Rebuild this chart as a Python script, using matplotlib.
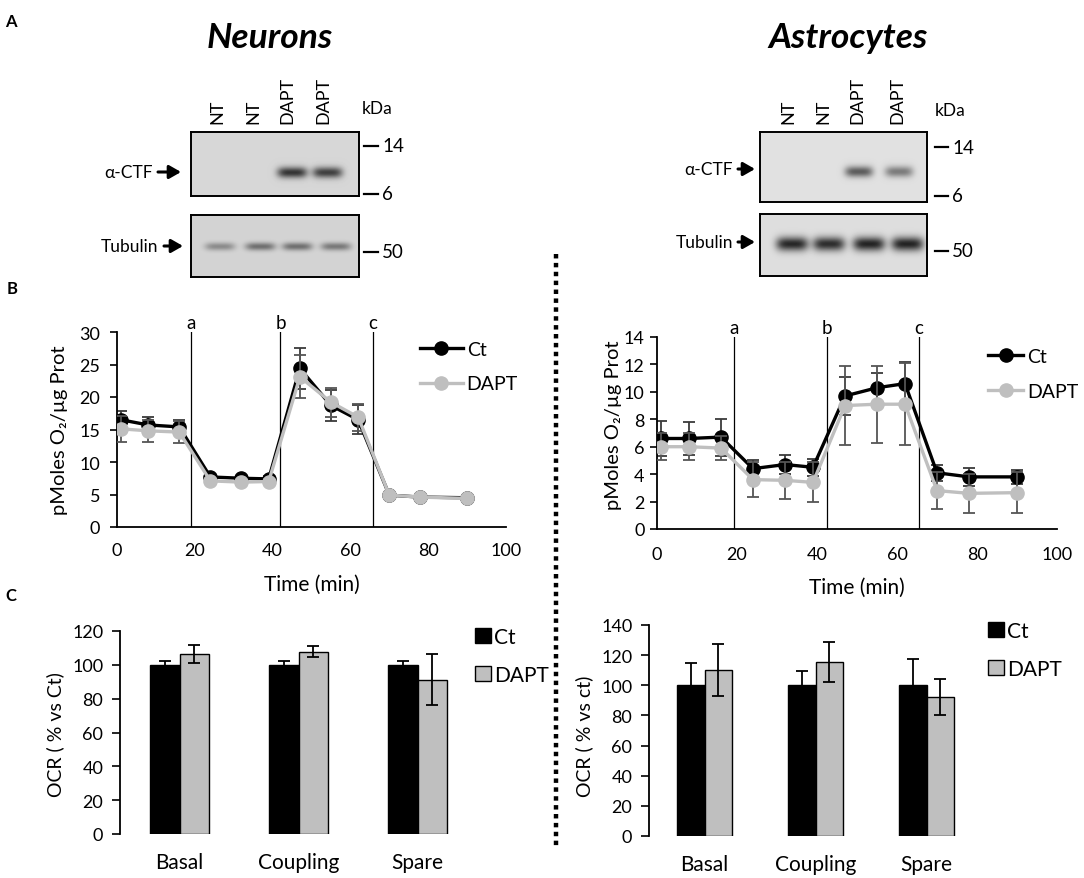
import matplotlib
matplotlib.use("Agg")
import matplotlib.pyplot as plt
import numpy as np
from matplotlib.lines import Line2D
from matplotlib.patches import Patch

plt.rcParams['font.family'] = ['Lato', 'DejaVu Sans']

W, H = 1084, 879

# ---------------- data ----------------
lanes = ['NT', 'NT', 'DAPT', 'DAPT']
kda_ctf = ['14', '6']
kda_tub = ['50']

# band strength per lane (0 = no band, 1 = black)
neu_ctf_band = [0.0, 0.0, 0.88, 0.82]
neu_tub_band = [0.40, 0.55, 0.55, 0.50]
ast_ctf_band = [0.0, 0.0, 0.68, 0.52]
ast_tub_band = [0.95, 0.92, 0.97, 0.97]

time_min = [1, 8, 16, 24, 32, 39, 47, 55, 62, 70, 78, 90]
inj_labels = ['a', 'b', 'c']
neu_inj = [19, 42, 65.8]
ast_inj = [19.3, 42.5, 65.5]

neu_ct = [16.5, 15.7, 15.4, 7.7, 7.5, 7.4, 24.4, 18.7, 16.5, 4.9, 4.6, 4.5]
neu_ct_err = [1.3, 1.2, 1.1, 0.4, 0.4, 0.4, 3.1, 2.4, 2.2, 0.3, 0.3, 0.3]
neu_dapt = [15.1, 14.8, 14.6, 7.1, 6.9, 7.0, 23.1, 19.2, 16.9, 4.9, 4.6, 4.4]
neu_dapt_err = [2.0, 1.7, 1.7, 0.4, 0.4, 0.4, 3.3, 2.2, 2.1, 0.3, 0.3, 0.3]

ast_ct = [6.6, 6.6, 6.7, 4.4, 4.7, 4.5, 9.7, 10.3, 10.6, 4.1, 3.8, 3.8]
ast_ct_err = [1.3, 1.2, 1.35, 0.65, 0.7, 0.6, 1.4, 1.1, 1.6, 0.6, 0.65, 0.5]
ast_dapt = [6.0, 6.0, 5.9, 3.6, 3.55, 3.4, 9.0, 9.1, 9.1, 2.8, 2.6, 2.65]
ast_dapt_err = [1.0, 1.0, 0.9, 1.25, 1.35, 1.45, 2.9, 2.8, 3.0, 1.35, 1.4, 1.5]

params = ['Basal', 'Coupling', 'Spare']
neu_bar_ct = [100, 100, 100]
neu_bar_ct_err = [2.5, 2.3, 2.3]
neu_bar_dapt = [106.5, 107.8, 91.3]
neu_bar_dapt_err = [5.3, 3.4, 15.0]
ast_bar_ct = [100, 100, 100]
ast_bar_ct_err = [14.5, 9.7, 17.5]
ast_bar_dapt = [110.0, 115.5, 92.0]
ast_bar_dapt_err = [17.3, 13.3, 12.0]

CT_COL = 'black'
DAPT_COL = '#bfbfbf'

fig = plt.figure(figsize=(W / 100, H / 100), dpi=100)


def px_axes(l, t, r, b):
    return fig.add_axes([l / W, 1 - b / H, (r - l) / W, (b - t) / H])


# overlay in pixel coordinates for labels and the divider
ov = fig.add_axes([0, 0, 1, 1])
ov.set_xlim(0, W)
ov.set_ylim(H, 0)
ov.axis('off')


def blot(box, bands, lane_pos, yc, hw, hh, bg):
    l, t, r, b = box
    ax = px_axes(l, t, r, b)
    w, h = r - l, b - t
    yy, xx = np.mgrid[0:h, 0:w]
    img = np.full((h, w), bg)
    for p, v in zip(lane_pos, bands):
        prof = v * np.exp(-((xx - p * w) / hw) ** 4 - ((yy - yc * h) / hh) ** 2)
        img = img - prof * (bg - 0.12)
    ax.imshow(img, cmap='gray', vmin=0, vmax=1, aspect='auto', interpolation='bilinear')
    ax.set_xticks([])
    ax.set_yticks([])
    for s in ax.spines.values():
        s.set_linewidth(1.4)
    return ax


# ---- panel A: blots ----
ov.text(11, 22, 'A', fontsize=12, fontweight='bold', ha='center', va='center')
ov.text(270, 38, 'Neurons', fontsize=25.5, fontweight='bold', fontstyle='italic', ha='center', va='center')
ov.text(848, 38, 'Astrocytes', fontsize=25.5, fontweight='bold', fontstyle='italic', ha='center', va='center')

blot((191, 133, 359, 197), neu_ctf_band, [0.17, 0.40, 0.60, 0.81], 0.625, 15, 5.5, 0.84)
blot((191, 216, 359, 278), neu_tub_band, [0.17, 0.41, 0.63, 0.86], 0.50, 15, 4.0, 0.83)
blot((760, 133, 927, 203), ast_ctf_band, [0.19, 0.41, 0.59, 0.83], 0.56, 14, 5.5, 0.88)
blot((760, 215, 927, 277), ast_tub_band, [0.19, 0.41, 0.65, 0.88], 0.475, 16, 7.0, 0.87)

for lane_x, kx, dash_x, ctf_y, tub_y, kda_y, ctf_lab, tub_lab in [
        ([217, 253, 287, 323], 377, (364, 378), (147, 195), 253, 109,
         (153, 158, 181, 173), (158, 164, 183, 247)),
        ([788, 823, 857, 897], 950, (935, 948), (148, 197), 252, 111,
         (733, 738, 755, 170), (733, 738, 755, 243))]:
    for x, lab in zip(lane_x, lanes):
        ov.text(x, 124, lab, rotation=90, fontsize=13, ha='center', va='bottom')
    ov.text(kx, kda_y, 'kDa', fontsize=12.5, ha='center', va='center')
    for y, lab in zip(list(ctf_y) + [tub_y], kda_ctf + kda_tub):
        ov.plot(dash_x, [y, y], color='k', lw=1.6)
        ov.text(dash_x[1] + 4, y, lab, fontsize=13.5, ha='left', va='center')
    for (tx, a0, a1, y), lab in [(ctf_lab, 'α-CTF'), (tub_lab, 'Tubulin')]:
        ov.text(tx, y, lab, fontsize=12.5, ha='right', va='center')
        ov.annotate('', xy=(a1, y), xytext=(a0, y),
                    arrowprops=dict(arrowstyle='-|>,head_length=0.7,head_width=0.4',
                                    lw=2.2, color='k', shrinkA=0, shrinkB=0))

# divider
ov.plot([556, 556], [255, 850], color='k', lw=3.2, linestyle=(0, (1, 1)), dash_capstyle='butt')

# ---- panel B: oxygen consumption ----
ov.text(12, 289, 'B', fontsize=12, fontweight='bold', ha='center', va='center')


def oxy_panel(box, ct, ct_err, dapt, dapt_err, inj, ymax, ystep, ypad, xpad, leg_xy, hl):
    ax = px_axes(*box)
    ax.errorbar(time_min, ct, yerr=ct_err, fmt='none', ecolor='#3a3a3a',
                elinewidth=1.3, capsize=4.5, capthick=1.3, zorder=2)
    ax.plot(time_min, ct, '-o', color=CT_COL, lw=2.4, ms=9.5, zorder=3, label='Ct')
    ax.errorbar(time_min, dapt, yerr=dapt_err, fmt='none', ecolor='#555555',
                elinewidth=1.3, capsize=4.5, capthick=1.3, zorder=4)
    ax.plot(time_min, dapt, '-o', color=DAPT_COL, lw=2.4, ms=9.5, zorder=5, label='DAPT')
    for x, lab in zip(inj, inj_labels):
        ax.axvline(x, color='k', lw=0.9, zorder=1)
        ax.annotate(lab, (x, ymax), xytext=(0, 3), textcoords='offset points',
                    ha='center', va='baseline', fontsize=13.5)
    ax.set_xlim(0, 100)
    ax.set_ylim(0, ymax)
    ax.set_xticks(range(0, 101, 20))
    ax.set_yticks(np.arange(0, ymax + 0.1, ystep))
    for s in ['top', 'right']:
        ax.spines[s].set_visible(False)
    for s in ['left', 'bottom']:
        ax.spines[s].set_linewidth(1.3)
    ax.tick_params(axis='x', length=0, pad=xpad, labelsize=13)
    ax.tick_params(axis='y', length=5, width=1.2, direction='out', pad=ypad, labelsize=13)
    ax.legend(loc='upper left', bbox_to_anchor=(leg_xy[0] / W, 1 - leg_xy[1] / H),
              bbox_transform=fig.transFigure, frameon=False, fontsize=14,
              handlelength=hl, handletextpad=0.2, labelspacing=0.9,
              borderpad=0, borderaxespad=0, numpoints=1)
    return ax


oxy_panel((117, 333, 506, 528), neu_ct, neu_ct_err, neu_dapt, neu_dapt_err, neu_inj,
          30, 5, 7, 11, (420, 342), 2.2)
oxy_panel((657, 338, 1057, 530), ast_ct, ast_ct_err, ast_dapt, ast_dapt_err, ast_inj,
          14, 2, 4, 12, (988, 349), 1.8)

ylab_b = 'pMoles O₂/µg Prot'
ov.text(60, 430, ylab_b, rotation=90, fontsize=14.5, ha='center', va='center')
ov.text(614, 425, ylab_b, rotation=90, fontsize=14.5, ha='center', va='center')
ov.text(312, 585, 'Time (min)', fontsize=15, ha='center', va='center')
ov.text(857, 588, 'Time (min)', fontsize=15, ha='center', va='center')

# ---- panel C: OCR bars ----
ov.text(11, 596, 'C', fontsize=12, fontweight='bold', ha='center', va='center')


def bar_panel(box, ct, ct_err, dapt, dapt_err, ymax, leg_xy):
    ax = px_axes(*box)
    x = np.arange(len(params))
    w = 0.25
    ax.bar(x - w / 2, ct, w, color=CT_COL, edgecolor='black', lw=1.0, label='Ct', zorder=2)
    ax.bar(x + w / 2, dapt, w, color=DAPT_COL, edgecolor='black', lw=1.0, label='DAPT', zorder=2)
    ax.errorbar(x - w / 2, ct, yerr=ct_err, fmt='none', ecolor='black',
                elinewidth=1.3, capsize=4.5, capthick=1.3, zorder=3)
    ax.errorbar(x + w / 2, dapt, yerr=dapt_err, fmt='none', ecolor='black',
                elinewidth=1.3, capsize=4.5, capthick=1.3, zorder=3)
    ax.set_xlim(-0.5, 2.5)
    ax.set_ylim(0, ymax)
    ax.set_yticks(range(0, ymax + 1, 20))
    ax.set_xticks(x)
    ax.set_xticklabels(params)
    for s in ['top', 'right', 'bottom']:
        ax.spines[s].set_visible(False)
    ax.spines['left'].set_linewidth(1.3)
    ax.tick_params(axis='x', length=0, pad=13, labelsize=15)
    ax.tick_params(axis='y', length=6, width=1.2, direction='out', pad=6, labelsize=13)
    handles = [Patch(facecolor=CT_COL, edgecolor='black', lw=1.0),
               Patch(facecolor=DAPT_COL, edgecolor='black', lw=1.0)]
    ax.legend(handles, ['Ct', 'DAPT'], loc='upper left',
              bbox_to_anchor=(leg_xy[0] / W, 1 - leg_xy[1] / H),
              bbox_transform=fig.transFigure, frameon=False, fontsize=15,
              handlelength=0.75, handleheight=0.75, handletextpad=0.15, labelspacing=0.85,
              borderpad=0, borderaxespad=0)
    return ax


bar_panel((120, 632, 477, 835), neu_bar_ct, neu_bar_ct_err, neu_bar_dapt, neu_bar_dapt_err,
          120, (475, 628))
bar_panel((649, 626, 982, 837), ast_bar_ct, ast_bar_ct_err, ast_bar_dapt, ast_bar_dapt_err,
          140, (988, 622))

ov.text(55, 735, 'OCR ( % vs Ct)', rotation=90, fontsize=14, ha='center', va='center')
ov.text(584, 736, 'OCR ( % vs ct)', rotation=90, fontsize=14, ha='center', va='center')

fig.savefig('out.png', dpi=100)
